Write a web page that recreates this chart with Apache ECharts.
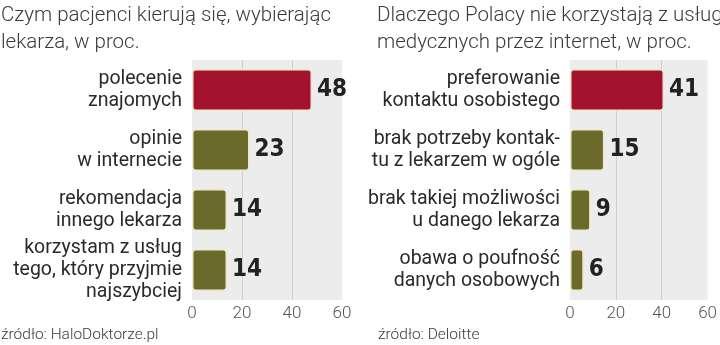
<!DOCTYPE html>
<html><head><meta charset="utf-8">
<script src="https://cdn.jsdelivr.net/npm/echarts@6/dist/echarts.min.js"></script>
<style>html,body{margin:0;padding:0;background:#fff}#c{width:720px;height:345px}</style>
</head><body><div id="c"></div>
<script>
const leftTitle = 'Czym pacjenci kierują się, wybierając\nlekarza, w proc.';
const rightTitle = 'Dlaczego Polacy nie korzystają z usług\nmedycznych przez internet, w proc.';
const leftCategories = ['polecenie\nznajomych', 'opinie\nw internecie', 'rekomendacja\ninnego lekarza', 'korzystam z usług\ntego, który przyjmie\nnajszybciej'];
const leftValues = [48, 23, 14, 14];
const rightCategories = ['preferowanie\nkontaktu osobistego', 'brak potrzeby kontak-\ntu z lekarzem w ogóle', 'brak takiej możliwości\nu danego lekarza', 'obawa o poufność\ndanych osobowych'];
const rightValues = [41, 15, 9, 6];
const axisTicks = [0, 20, 40, 60];
const leftSource = 'źródło: HaloDoktorze.pl';
const rightSource = 'źródło: Deloitte';

const RED = '#a3132e', OLIVE = '#6b6a2b';
const light = 'Roboto';
function itemData(vals){
  return vals.map((v,i)=>({value:v, itemStyle:{color: i===0?RED:OLIVE}}));
}
function xAxis(gi){
  return {gridIndex:gi, type:'value', min:axisTicks[0], max:axisTicks[axisTicks.length-1], interval:axisTicks[1]-axisTicks[0],
    axisLine:{show:false}, axisTick:{show:false},
    axisLabel:{color:'#555', fontSize:17, fontWeight:300, fontFamily:light, margin:5},
    splitLine:{show:true, showMinLine:false, showMaxLine:false, lineStyle:{color:'#cfcfcf', width:1}}};
}
function yAxis(gi, cats){
  return {gridIndex:gi, type:'category', data:cats, inverse:true,
    axisLine:{show:false}, axisTick:{show:false},
    axisLabel:{color:'#2a2a2a', fontSize:19.5, fontFamily:'Roboto', lineHeight:22, margin:10, align:'right'}};
}
function series(gi, vals){
  return {type:'bar', xAxisIndex:gi, yAxisIndex:gi, data:itemData(vals), barCategoryGap:'30%',
    itemStyle:{borderColor:'#efe9cc', borderWidth:1.5, borderRadius:3},
    label:{show:true, position:'right', distance:5, color:'#222', fontSize:24, fontWeight:'bold', fontFamily:'DejaVu Sans Condensed'}};
}
const tStyle = {fontSize:20.5, fontWeight:300, fontFamily:light, color:'#3a3a3a', lineHeight:27};
const sStyle = {fontSize:15.5, fontWeight:300, fontFamily:light, color:'#3a3a3a'};
const chart = echarts.init(document.getElementById('c'), null, {renderer:'canvas'});
chart.setOption({
  animation:false,
  backgroundColor:'#fff',
  title:[
    {text:leftTitle, left:1, top:2, padding:0, textStyle:tStyle},
    {text:rightTitle, left:377, top:2, padding:0, textStyle:tStyle},
    {text:leftSource, left:1, top:327, padding:0, textStyle:sStyle},
    {text:rightSource, left:378, top:327, padding:0, textStyle:sStyle}
  ],
  grid:[
    {left:192, top:60, width:150, height:240, show:true, backgroundColor:'#ececec', borderWidth:0},
    {left:570, top:60, width:140, height:240, show:true, backgroundColor:'#ececec', borderWidth:0}
  ],
  xAxis:[xAxis(0), xAxis(1)],
  yAxis:[yAxis(0, leftCategories), yAxis(1, rightCategories)],
  series:[series(0, leftValues), series(1, rightValues)]
});
</script></body></html>
